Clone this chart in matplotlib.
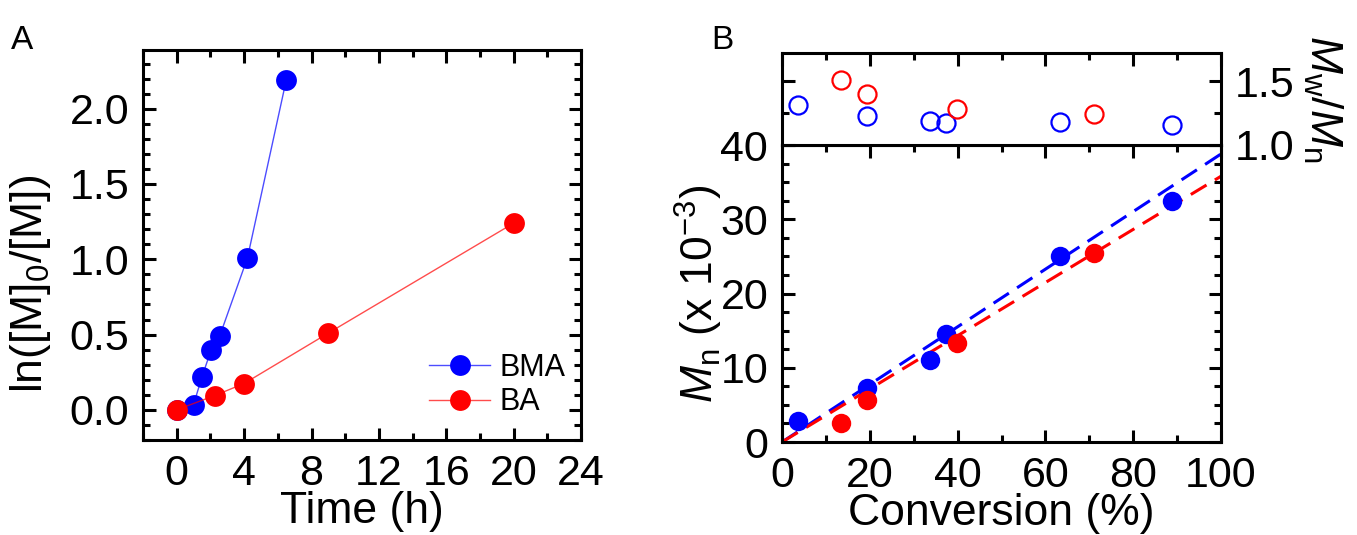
import numpy as np
import matplotlib
matplotlib.use("Agg")
import matplotlib.pyplot as plt
from matplotlib.ticker import MultipleLocator
from matplotlib.lines import Line2D

plt.rcParams['font.family'] = ['Liberation Sans', 'DejaVu Sans']
plt.rcParams['mathtext.fontset'] = 'custom'
plt.rcParams['mathtext.rm'] = 'Liberation Sans'
plt.rcParams['mathtext.it'] = 'Liberation Sans:italic'

# panel A: kinetics
bma_t = [0, 1.0, 1.5, 2.05, 2.55, 4.2, 6.5]
bma_y = [0, 0.035, 0.22, 0.40, 0.49, 1.01, 2.19]
ba_t = [0, 2.25, 4.0, 9.0, 20.0]
ba_y = [0, 0.095, 0.175, 0.51, 1.24]

# panel B: Mn and dispersity vs conversion
conv_bma = [3.6, 19.3, 33.6, 37.3, 63.3, 88.9]
mn_bma = [2.8, 7.3, 11.1, 14.5, 25.1, 32.5]
pdi_bma = [1.31, 1.23, 1.19, 1.17, 1.18, 1.16]
conv_ba = [13.4, 19.3, 39.9, 71.1]
mn_ba = [2.5, 5.6, 13.3, 25.4]
pdi_ba = [1.51, 1.40, 1.28, 1.24]

# theoretical Mn lines
theo_x = [0, 100]
theo_bma = [0, 38.8]
theo_ba = [0, 35.8]

BLUE = '#0000ff'
RED = '#ff0000'
BLUE_LN = (0, 0, 1, 0.7)
RED_LN = (1, 0, 0, 0.7)
TS = 31
LS = 32

fig = plt.figure(figsize=(13.57, 5.35), dpi=100)


def style(ax, major_len=9, minor_len=5):
    for s in ax.spines.values():
        s.set_linewidth(2.2)
    ax.tick_params(which='both', direction='in', width=2.2, labelsize=TS)
    ax.tick_params(which='major', length=major_len)
    ax.tick_params(which='minor', length=minor_len)


# ---- A ----
axA = fig.add_axes([0.1054, 0.1776, 0.3228, 0.729])
axA.plot(bma_t, bma_y, '-', color=BLUE_LN, lw=1.0)
axA.plot(bma_t, bma_y, 'o', color=BLUE, ms=15, mec='none')
axA.plot(ba_t, ba_y, '-', color=RED_LN, lw=1.0)
axA.plot(ba_t, ba_y, 'o', color=RED, ms=15, mec='none')
axA.set_xlim(-2, 24)
axA.set_ylim(-0.2, 2.39)
axA.xaxis.set_major_locator(MultipleLocator(4))
axA.xaxis.set_minor_locator(MultipleLocator(2))
axA.yaxis.set_major_locator(MultipleLocator(0.5))
axA.yaxis.set_minor_locator(MultipleLocator(0.1))
axA.yaxis.set_major_formatter(plt.FormatStrFormatter('%.1f'))
style(axA)
axA.tick_params(which='both', top=True, right=True)
axA.tick_params(axis='x', pad=10)
axA.tick_params(axis='y', pad=10)
axA.set_xlabel('Time (h)', fontsize=LS, labelpad=-2)
axA.set_ylabel(r'ln([M]$_0$/[M])', fontsize=LS)
axA.yaxis.set_label_coords(-0.205, 0.40)

h1 = Line2D([], [], color=BLUE_LN, lw=1.0, marker='o', ms=15, mfc=BLUE, mec='none')
h2 = Line2D([], [], color=RED_LN, lw=1.0, marker='o', ms=15, mfc=RED, mec='none')
axA.legend([h1, h2], ['BMA', 'BA'], loc='center left', bbox_to_anchor=(0.653, 0.141),
           frameon=False, fontsize=22, handlelength=2.0, handletextpad=0.3,
           labelspacing=0.15, borderpad=0, borderaxespad=0)

fig.text(0.016, 0.925, 'A', fontsize=24, ha='center', va='center')
fig.text(0.532, 0.925, 'B', fontsize=24, ha='center', va='center')

# ---- B bottom ----
axB = fig.add_axes([0.5763, 0.1738, 0.3235, 0.5551])
axB.plot(theo_x, theo_bma, '--', color=BLUE, lw=2.2, dashes=(6, 3.2))
axB.plot(theo_x, theo_ba, '--', color=RED, lw=2.2, dashes=(6, 3.2))
axB.plot(conv_bma, mn_bma, 'o', color=BLUE, ms=14, mec='none')
axB.plot(conv_ba, mn_ba, 'o', color=RED, ms=14, mec='none')
axB.set_xlim(0, 100)
axB.set_ylim(0, 40)
axB.xaxis.set_major_locator(MultipleLocator(20))
axB.xaxis.set_minor_locator(MultipleLocator(10))
axB.yaxis.set_major_locator(MultipleLocator(10))
axB.yaxis.set_minor_locator(MultipleLocator(2.5))
style(axB)
axB.tick_params(which='both', top=True, right=True)
axB.tick_params(axis='x', pad=10)
axB.tick_params(axis='y', pad=10)
axB.set_xlabel('Conversion (%)', fontsize=LS, labelpad=-2)
axB.set_ylabel(r'$M_{\rm n}$ (x 10$^{-3}$)', fontsize=LS)
axB.yaxis.set_label_coords(-0.13, 0.5)

# ---- B top ----
axT = fig.add_axes([0.5763, 0.729, 0.3235, 0.172], sharex=axB)
axT.plot(conv_bma, pdi_bma, 'o', ms=13, mfc='none', mec=BLUE, mew=1.6)
axT.plot(conv_ba, pdi_ba, 'o', ms=13, mfc='none', mec=RED, mew=1.6)
axT.set_ylim(1.0, 1.72)
axT.yaxis.set_major_locator(MultipleLocator(0.5))
axT.yaxis.set_minor_locator(MultipleLocator(0.25))
axT.yaxis.set_major_formatter(plt.FormatStrFormatter('%.1f'))
style(axT)
axT.tick_params(which='both', top=True, bottom=False, left=True, right=True,
                labelbottom=False, labelleft=False, labelright=True)
axT.tick_params(axis='y', pad=10)
axT.yaxis.set_label_position('right')
axT.set_ylabel(r'$M_{\rm w}$/$M_{\rm n}$', fontsize=LS, rotation=270, labelpad=36)

fig.savefig('out.png', dpi=100)
